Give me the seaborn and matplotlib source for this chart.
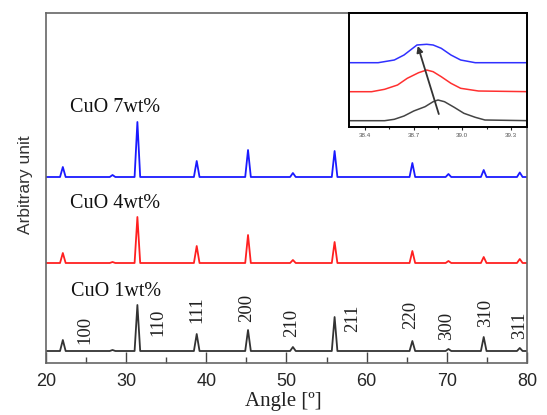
import numpy as np
import pandas as pd
import matplotlib
matplotlib.use("Agg")
import matplotlib.pyplot as plt
from matplotlib.ticker import MultipleLocator
import seaborn as sns

# reflection positions (2theta) and peak heights per sample
peak_angle = [22.1, 28.3, 31.4, 38.8, 45.2, 50.8, 56.0, 65.7, 70.2, 74.6, 79.1]
h_1wt = [11, 1, 46, 17, 21, 4, 34, 10, 2, 14, 3]
h_4wt = [10, 1, 46, 17, 28, 3, 21, 12, 2, 6, 4]
h_7wt = [10, 2, 55, 16, 27, 4, 26, 14, 3, 7, 4.5]

hkl_labels = ["100", "110", "111", "200", "210", "211", "220", "300", "310", "311"]
sample_labels = ["CuO 1wt%", "CuO 4wt%", "CuO 7wt%"]

# zoom of the (111) peak
in_x_1wt = [38.27, 38.52, 38.58, 38.64, 38.70, 38.77, 38.82, 38.85, 38.89, 38.95, 39.01, 39.08, 39.14, 39.42]
in_y_1wt = [6.3, 6.3, 7.7, 11, 16, 20.3, 25.3, 27, 25.3, 19.7, 13.7, 9.7, 7, 6.3]
in_x_4wt = [38.27, 38.44, 38.52, 38.60, 38.66, 38.73, 38.78, 38.82, 38.87, 38.93, 38.99, 39.10, 39.42]
in_y_4wt = [35.3, 35.3, 37.7, 42, 48.7, 54.3, 57, 55.3, 50.3, 43.7, 38.7, 36, 35.3]
in_x_7wt = [38.27, 38.48, 38.58, 38.64, 38.68, 38.72, 38.78, 38.82, 38.87, 38.93, 38.99, 39.08, 39.42]
in_y_7wt = [64.3, 64.3, 67, 72, 77, 82, 82.7, 82, 78.7, 72, 67, 64.3, 64.3]
arrow_from = (38.86, 10.3)
arrow_to = (38.72, 83.7)

# layout
offsets = [12, 100, 186]
colors = ["#333333", "#ff2020", "#1a1aff"]
hkl_pos = [(24.9, 33), (34.0, 41), (38.8, 53), (45.0, 55), (50.6, 40),
           (58.3, 45), (65.5, 48), (70.0, 37), (74.8, 50), (79.1, 38)]
label_pos = [(23.1, 71), (23.0, 160), (23.0, 255)]


def profile(heights, offset, w=0.35):
    xs, ys = [20.0], [offset]
    for c, h in zip(peak_angle, heights):
        xs += [c - w, c, c + w]
        ys += [offset, offset + h, offset]
    xs.append(80.0)
    ys.append(offset)
    return pd.DataFrame({"angle": xs, "intensity": ys})


sns.set_style("white")
plt.rcParams["font.family"] = ["Liberation Sans", "DejaVu Sans"]

fig = plt.figure(figsize=(5.47, 4.15), dpi=100)
ax = fig.add_axes([46 / 547, 52 / 415, 481 / 547, 350 / 415])

for heights, off, col in zip([h_1wt, h_4wt, h_7wt], offsets, colors):
    sns.lineplot(data=profile(heights, off), x="angle", y="intensity", color=col,
                 lw=1.3, estimator=None, sort=False, ax=ax)

serif = ["Liberation Serif", "DejaVu Serif"]
for txt, (x, y) in zip(hkl_labels, hkl_pos):
    ax.text(x, y, txt, rotation=90, ha="center", va="center", fontsize=13.5,
            family=serif, color="#222222")
for txt, (x, y) in zip(sample_labels, label_pos):
    ax.text(x, y, txt, ha="left", va="center", fontsize=14.5, family=serif, color="#111111")

ax.set_xlim(20, 80)
ax.set_ylim(0, 350)
ax.xaxis.set_major_locator(MultipleLocator(10))
ax.xaxis.set_minor_locator(MultipleLocator(5))
ax.tick_params(axis="x", which="major", direction="in", length=8, width=1.0,
               labelsize=13, pad=7, color="#444444", bottom=True)
ax.tick_params(axis="x", which="minor", direction="in", length=4, width=1.0,
               color="#444444", bottom=True)
ax.set_yticks([])
for s in ax.spines.values():
    s.set_color("#666666")
    s.set_linewidth(1.2)

ax.set_xlabel("Angle [º]", fontsize=15, family=serif, color="#222222")
ax.xaxis.set_label_coords(0.493, -0.083)
ax.set_ylabel("Arbitrary unit", fontsize=12.5, color="#333333")
ax.yaxis.set_label_coords(-0.027, 0.509)

# inset
axi = fig.add_axes([349 / 547, 288 / 415, 178 / 547, 114 / 415])
axi.set_facecolor("white")
for xs, ys, col in zip([in_x_1wt, in_x_4wt, in_x_7wt], [in_y_1wt, in_y_4wt, in_y_7wt],
                       ["#444444", "#ff3030", "#3030ff"]):
    df_in = pd.DataFrame({"angle": xs, "intensity": ys})
    sns.lineplot(data=df_in, x="angle", y="intensity", color=col, lw=1.1,
                 estimator=None, sort=False, ax=axi)
axi.annotate("", xy=arrow_to, xytext=arrow_from,
             arrowprops=dict(arrowstyle="-|>", color="#333333", lw=1.3, mutation_scale=9))
axi.set_xlim(38.3, 39.4)
axi.set_ylim(0, 114)
axi.set_xticks([38.4, 38.7, 39.0, 39.3])
axi.set_xticklabels(["38.4", "38.7", "39.0", "39.3"])
axi.xaxis.set_minor_locator(MultipleLocator(0.15))
axi.tick_params(axis="x", which="major", direction="out", length=2.5, width=0.8,
                labelsize=4.5, pad=1.5, labelcolor="#555555", bottom=True)
axi.tick_params(axis="x", which="minor", direction="out", length=1.5, width=0.8, bottom=True)
axi.set_yticks([])
axi.set_xlabel("")
axi.set_ylabel("")
for s in axi.spines.values():
    s.set_color("black")
    s.set_linewidth(1.4)

fig.savefig("out.png", dpi=100)
